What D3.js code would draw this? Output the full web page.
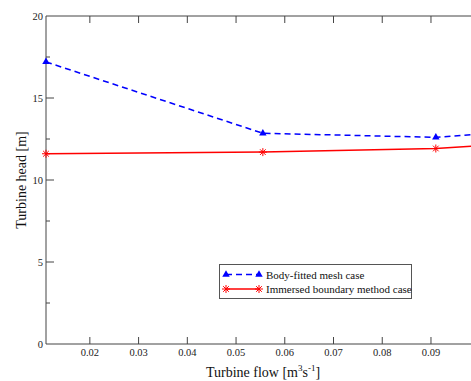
<!DOCTYPE html>
<html><head><meta charset="utf-8">
<script src="https://cdn.jsdelivr.net/npm/d3@7"></script>
<style>body{margin:0;background:#fff}svg{display:block}text{font-family:"Liberation Serif","Times New Roman",serif}</style>
</head><body><div id="chart"></div>
<script>
const flow = [0.011, 0.0555, 0.091, 0.1];
const bodyFitted = [17.2, 12.85, 12.6, 12.8];
const immersed = [11.6, 11.7, 11.92, 12.1];
const xTicks = [0.02, 0.03, 0.04, 0.05, 0.06, 0.07, 0.08, 0.09];
const yTicks = [0, 5, 10, 15, 20];
const yMinor = [2.5, 7.5, 12.5, 17.5];
const seriesNames = ["Body-fitted mesh case", "Immersed boundary method case"];

const W = 471, H = 381;
const svg = d3.select("#chart").append("svg").attr("width", W).attr("height", H);
const x = d3.scaleLinear().domain([0.011, 0.1]).range([46, 479.7]);
const y = d3.scaleLinear().domain([0, 20]).range([344, 16]);
const axisCol = "#444";

// axes frame
const g = svg.append("g");
g.append("line").attr("x1", x(0.011)).attr("x2", W + 10).attr("y1", y(0)).attr("y2", y(0)).attr("stroke", axisCol);
g.append("line").attr("x1", x(0.011)).attr("x2", W + 10).attr("y1", y(20)).attr("y2", y(20)).attr("stroke", axisCol);
g.append("line").attr("x1", x(0.011)).attr("x2", x(0.011)).attr("y1", y(0)).attr("y2", y(20)).attr("stroke", axisCol);

// x ticks bottom/top
xTicks.forEach(t => {
  g.append("line").attr("x1", x(t)).attr("x2", x(t)).attr("y1", y(0)).attr("y2", y(0) - 7).attr("stroke", axisCol);
  g.append("line").attr("x1", x(t)).attr("x2", x(t)).attr("y1", y(20)).attr("y2", y(20) + 7).attr("stroke", axisCol);
  g.append("text").attr("x", x(t)).attr("y", y(0) + 12).attr("text-anchor", "middle")
    .attr("font-size", 10.5).attr("fill", "#222").text(d3.format(".2f")(t));
});
// y ticks
yTicks.forEach(t => {
  if (t > 0 && t < 20) g.append("line").attr("x1", x(0.011)).attr("x2", x(0.011) + 8).attr("y1", y(t)).attr("y2", y(t)).attr("stroke", axisCol);
  g.append("text").attr("x", x(0.011) - 3).attr("y", y(t) + 4).attr("text-anchor", "end")
    .attr("font-size", 10.5).attr("fill", "#222").text(t);
});
yMinor.forEach(t => {
  g.append("line").attr("x1", x(0.011)).attr("x2", x(0.011) + 4).attr("y1", y(t)).attr("y2", y(t)).attr("stroke", axisCol);
});

// titles
svg.append("text").attr("transform", `translate(26,${y(10)}) rotate(-90)`).attr("text-anchor", "middle")
  .attr("font-size", 14).attr("fill", "#111").text("Turbine head [m]");
const xt = svg.append("text").attr("x", 263).attr("y", 377).attr("text-anchor", "middle").attr("font-size", 14).attr("fill", "#111");
xt.append("tspan").text("Turbine flow [m");
xt.append("tspan").attr("dy", -6).attr("font-size", 9).text("3");
xt.append("tspan").attr("dy", 6).text("s");
xt.append("tspan").attr("dy", -6).attr("font-size", 9).text("-1");
xt.append("tspan").attr("dy", 6).text("]");

// lines
const line = d3.line().x(d => x(d[0])).y(d => y(d[1]));
const blueData = flow.map((f, i) => [f, bodyFitted[i]]);
const redData = flow.map((f, i) => [f, immersed[i]]);
svg.append("path").datum(redData).attr("d", line).attr("fill", "none").attr("stroke", "#ff0000").attr("stroke-width", 1.5);
svg.append("path").datum(blueData).attr("d", line).attr("fill", "none").attr("stroke", "#0000ff").attr("stroke-width", 1.5).attr("stroke-dasharray", "6,4");

const tri = d3.symbol().type(d3.symbolTriangle).size(24);
const star = (cx, cy, r) => {
  let p = "";
  for (let k = 0; k < 4; k++) {
    const a = k * Math.PI / 4;
    p += `M${cx - r * Math.cos(a)},${cy - r * Math.sin(a)}L${cx + r * Math.cos(a)},${cy + r * Math.sin(a)}`;
  }
  return p;
};
blueData.slice(0, 3).forEach(d => svg.append("path").attr("d", tri).attr("transform", `translate(${x(d[0])},${y(d[1])})`).attr("fill", "#0000ff"));
redData.slice(0, 3).forEach(d => svg.append("path").attr("d", star(x(d[0]), y(d[1]), 4)).attr("stroke", "#ff0000").attr("stroke-width", 1));

// legend
const lg = svg.append("g");
lg.append("rect").attr("x", 219.5).attr("y", 264.5).attr("width", 192).attr("height", 34).attr("fill", "#fff").attr("stroke", "#555");
const rows = [274.5, 289];
lg.append("line").attr("x1", 226).attr("x2", 259).attr("y1", rows[0]).attr("y2", rows[0]).attr("stroke", "#0000ff").attr("stroke-width", 1.5).attr("stroke-dasharray", "6,4");
[226, 259].forEach(px => lg.append("path").attr("d", tri).attr("transform", `translate(${px},${rows[0]})`).attr("fill", "#0000ff"));
lg.append("line").attr("x1", 226).attr("x2", 259).attr("y1", rows[1]).attr("y2", rows[1]).attr("stroke", "#ff0000").attr("stroke-width", 1.5);
[226, 259].forEach(px => lg.append("path").attr("d", star(px, rows[1], 4)).attr("stroke", "#ff0000"));
seriesNames.forEach((n, i) => lg.append("text").attr("x", 266).attr("y", rows[i] + 4).attr("font-size", 11).attr("fill", "#111").text(n));
</script></body></html>
